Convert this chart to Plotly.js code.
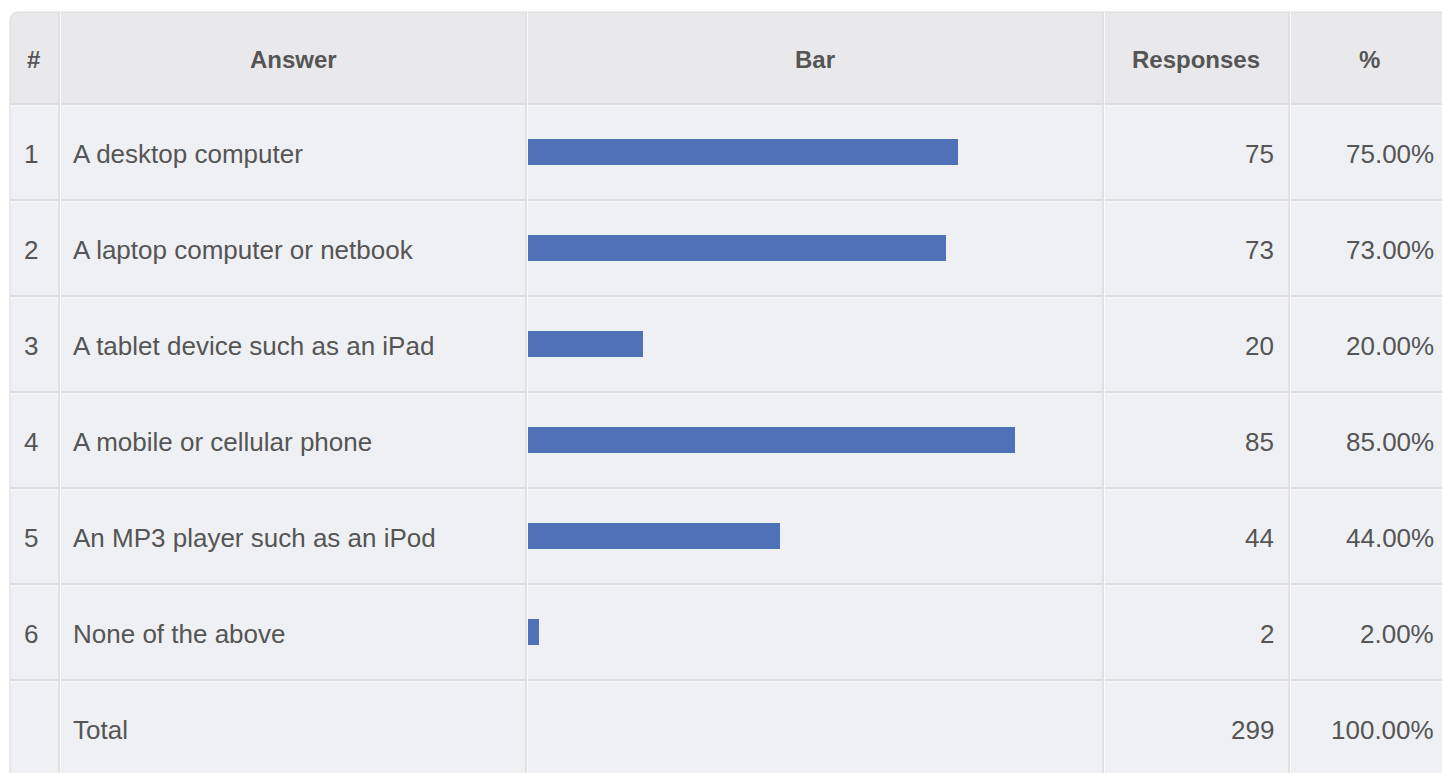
<!DOCTYPE html>
<html>
<head>
<meta charset="utf-8">
<script src="https://cdn.plot.ly/plotly-3.0.1.min.js"></script>
<style>
  html, body { margin: 0; padding: 0; background: #ffffff; }
  #chart { width: 1442px; height: 773px; }
</style>
</head>
<body>
<div id="chart"></div>
<script>
// ---- data ----
const headers = ['#', 'Answer', 'Bar', 'Responses', '%'];
const rowNumbers = ['1', '2', '3', '4', '5', '6'];
const answers = [
  'A desktop computer',
  'A laptop computer or netbook',
  'A tablet device such as an iPad',
  'A mobile or cellular phone',
  'An MP3 player such as an iPod',
  'None of the above'
];
const responses = [75, 73, 20, 85, 44, 2];
const percents = [75, 73, 20, 85, 44, 2];
const totalLabel = 'Total';
const totalResponses = 299;
const totalPercent = 100;

// ---- layout helpers (pixel -> paper) ----
const W = 1442, H = 773;
const px = v => v / W;
const py = v => 1 - v / H;
const ROW_H = 96, HEADER_BOTTOM = 104, TOP = 12, LEFT = 10;
const colBorders = [59, 526, 1103, 1289];

const nRowsVisible = (H - HEADER_BOTTOM) / ROW_H;
const yRange = [0.5 + nRowsVisible, 0.5];

const font = '"Liberation Sans", Arial, Helvetica, sans-serif';
const textColor = '#555555';
const bodySize = 26;
const headSize = 24;

const rowIdx = rowNumbers.map((_, i) => i + 1);
const totalRow = rowNumbers.length + 1;

const bar = {
  type: 'bar',
  orientation: 'h',
  x: percents,
  y: rowIdx,
  width: 0.27,
  marker: { color: '#4f71b8', line: { width: 0 } },
  hoverinfo: 'skip',
  showlegend: false
};

const shapes = [];
const r = 9;
shapes.push({
  type: 'path', xref: 'paper', yref: 'paper', layer: 'below',
  path: `M ${px(LEFT)},${py(HEADER_BOTTOM)} L ${px(LEFT)},${py(TOP + r)} Q ${px(LEFT)},${py(TOP)} ${px(LEFT + r)},${py(TOP)} L ${px(W + 5)},${py(TOP)} L ${px(W + 5)},${py(HEADER_BOTTOM)} Z`,
  fillcolor: '#e9e9eb', line: { color: '#dadadc', width: 1 }
});
shapes.push({
  type: 'rect', xref: 'paper', yref: 'paper', layer: 'below',
  x0: px(LEFT), x1: px(W + 5), y0: py(H + 5), y1: py(HEADER_BOTTOM),
  fillcolor: '#eff0f4', line: { color: '#dadadc', width: 1 }
});
for (let k = 0; k <= rowNumbers.length; k++) {
  const yv = k + 0.5;
  shapes.push({
    type: 'line', xref: 'paper', yref: 'y', layer: 'below',
    x0: px(LEFT), x1: px(W + 5), y0: yv, y1: yv,
    line: { color: '#dcdcde', width: 2 }
  });
  shapes.push({
    type: 'line', xref: 'paper', yref: 'y', layer: 'below',
    x0: px(LEFT), x1: px(W + 5), y0: yv + 2 / ROW_H, y1: yv + 2 / ROW_H,
    line: { color: '#fbfbfc', width: 1 }
  });
}
colBorders.forEach(xb => {
  shapes.push({
    type: 'line', xref: 'paper', yref: 'paper', layer: 'below',
    x0: px(xb), x1: px(xb), y0: py(TOP), y1: py(H + 5),
    line: { color: '#dcdcde', width: 1.5 }
  });
  shapes.push({
    type: 'line', xref: 'paper', yref: 'paper', layer: 'below',
    x0: px(xb + 1.5), x1: px(xb + 1.5), y0: py(TOP), y1: py(H + 5),
    line: { color: '#fbfbfc', width: 1 }
  });
});

const annotations = [];
const headerX = [33, 293, 815, 1196, 1369];
headers.forEach((h, i) => {
  annotations.push({
    xref: 'paper', yref: 'paper', x: px(headerX[i]), y: py(59),
    text: '<b>' + h + '</b>', showarrow: false, xanchor: 'center', yanchor: 'middle',
    font: { family: font, size: headSize, color: textColor }
  });
});
const ys = -2;
function cellRow(num, label, resp, pct, yv) {
  const base = { xref: 'paper', yref: 'y', y: yv, showarrow: false, yanchor: 'middle', yshift: ys,
    font: { family: font, size: bodySize, color: textColor } };
  if (num !== '') annotations.push(Object.assign({}, base, { x: px(31), text: num, xanchor: 'center' }));
  annotations.push(Object.assign({}, base, { x: px(71), text: label, xanchor: 'left' }));
  annotations.push(Object.assign({}, base, { x: px(1276), text: String(resp), xanchor: 'right' }));
  annotations.push(Object.assign({}, base, { x: px(1436), text: pct.toFixed(2) + '%', xanchor: 'right' }));
}
rowNumbers.forEach((n, i) => cellRow(n, answers[i], responses[i], percents[i], rowIdx[i]));
cellRow('', totalLabel, totalResponses, totalPercent, totalRow);

const layout = {
  width: W, height: H,
  margin: { l: 0, r: 0, t: 0, b: 0, pad: 0 },
  paper_bgcolor: '#ffffff',
  plot_bgcolor: 'rgba(0,0,0,0)',
  showlegend: false,
  xaxis: {
    domain: [px(528), px(1101)], range: [0, 100],
    showgrid: false, zeroline: false, showticklabels: false, showline: false, ticks: '', fixedrange: true
  },
  yaxis: {
    domain: [0, py(HEADER_BOTTOM)], range: yRange,
    showgrid: false, zeroline: false, showticklabels: false, showline: false, ticks: '', fixedrange: true
  },
  shapes: shapes,
  annotations: annotations,
  bargap: 0
};

Plotly.newPlot('chart', [bar], layout, { staticPlot: true, displayModeBar: false });
</script>
</body>
</html>
